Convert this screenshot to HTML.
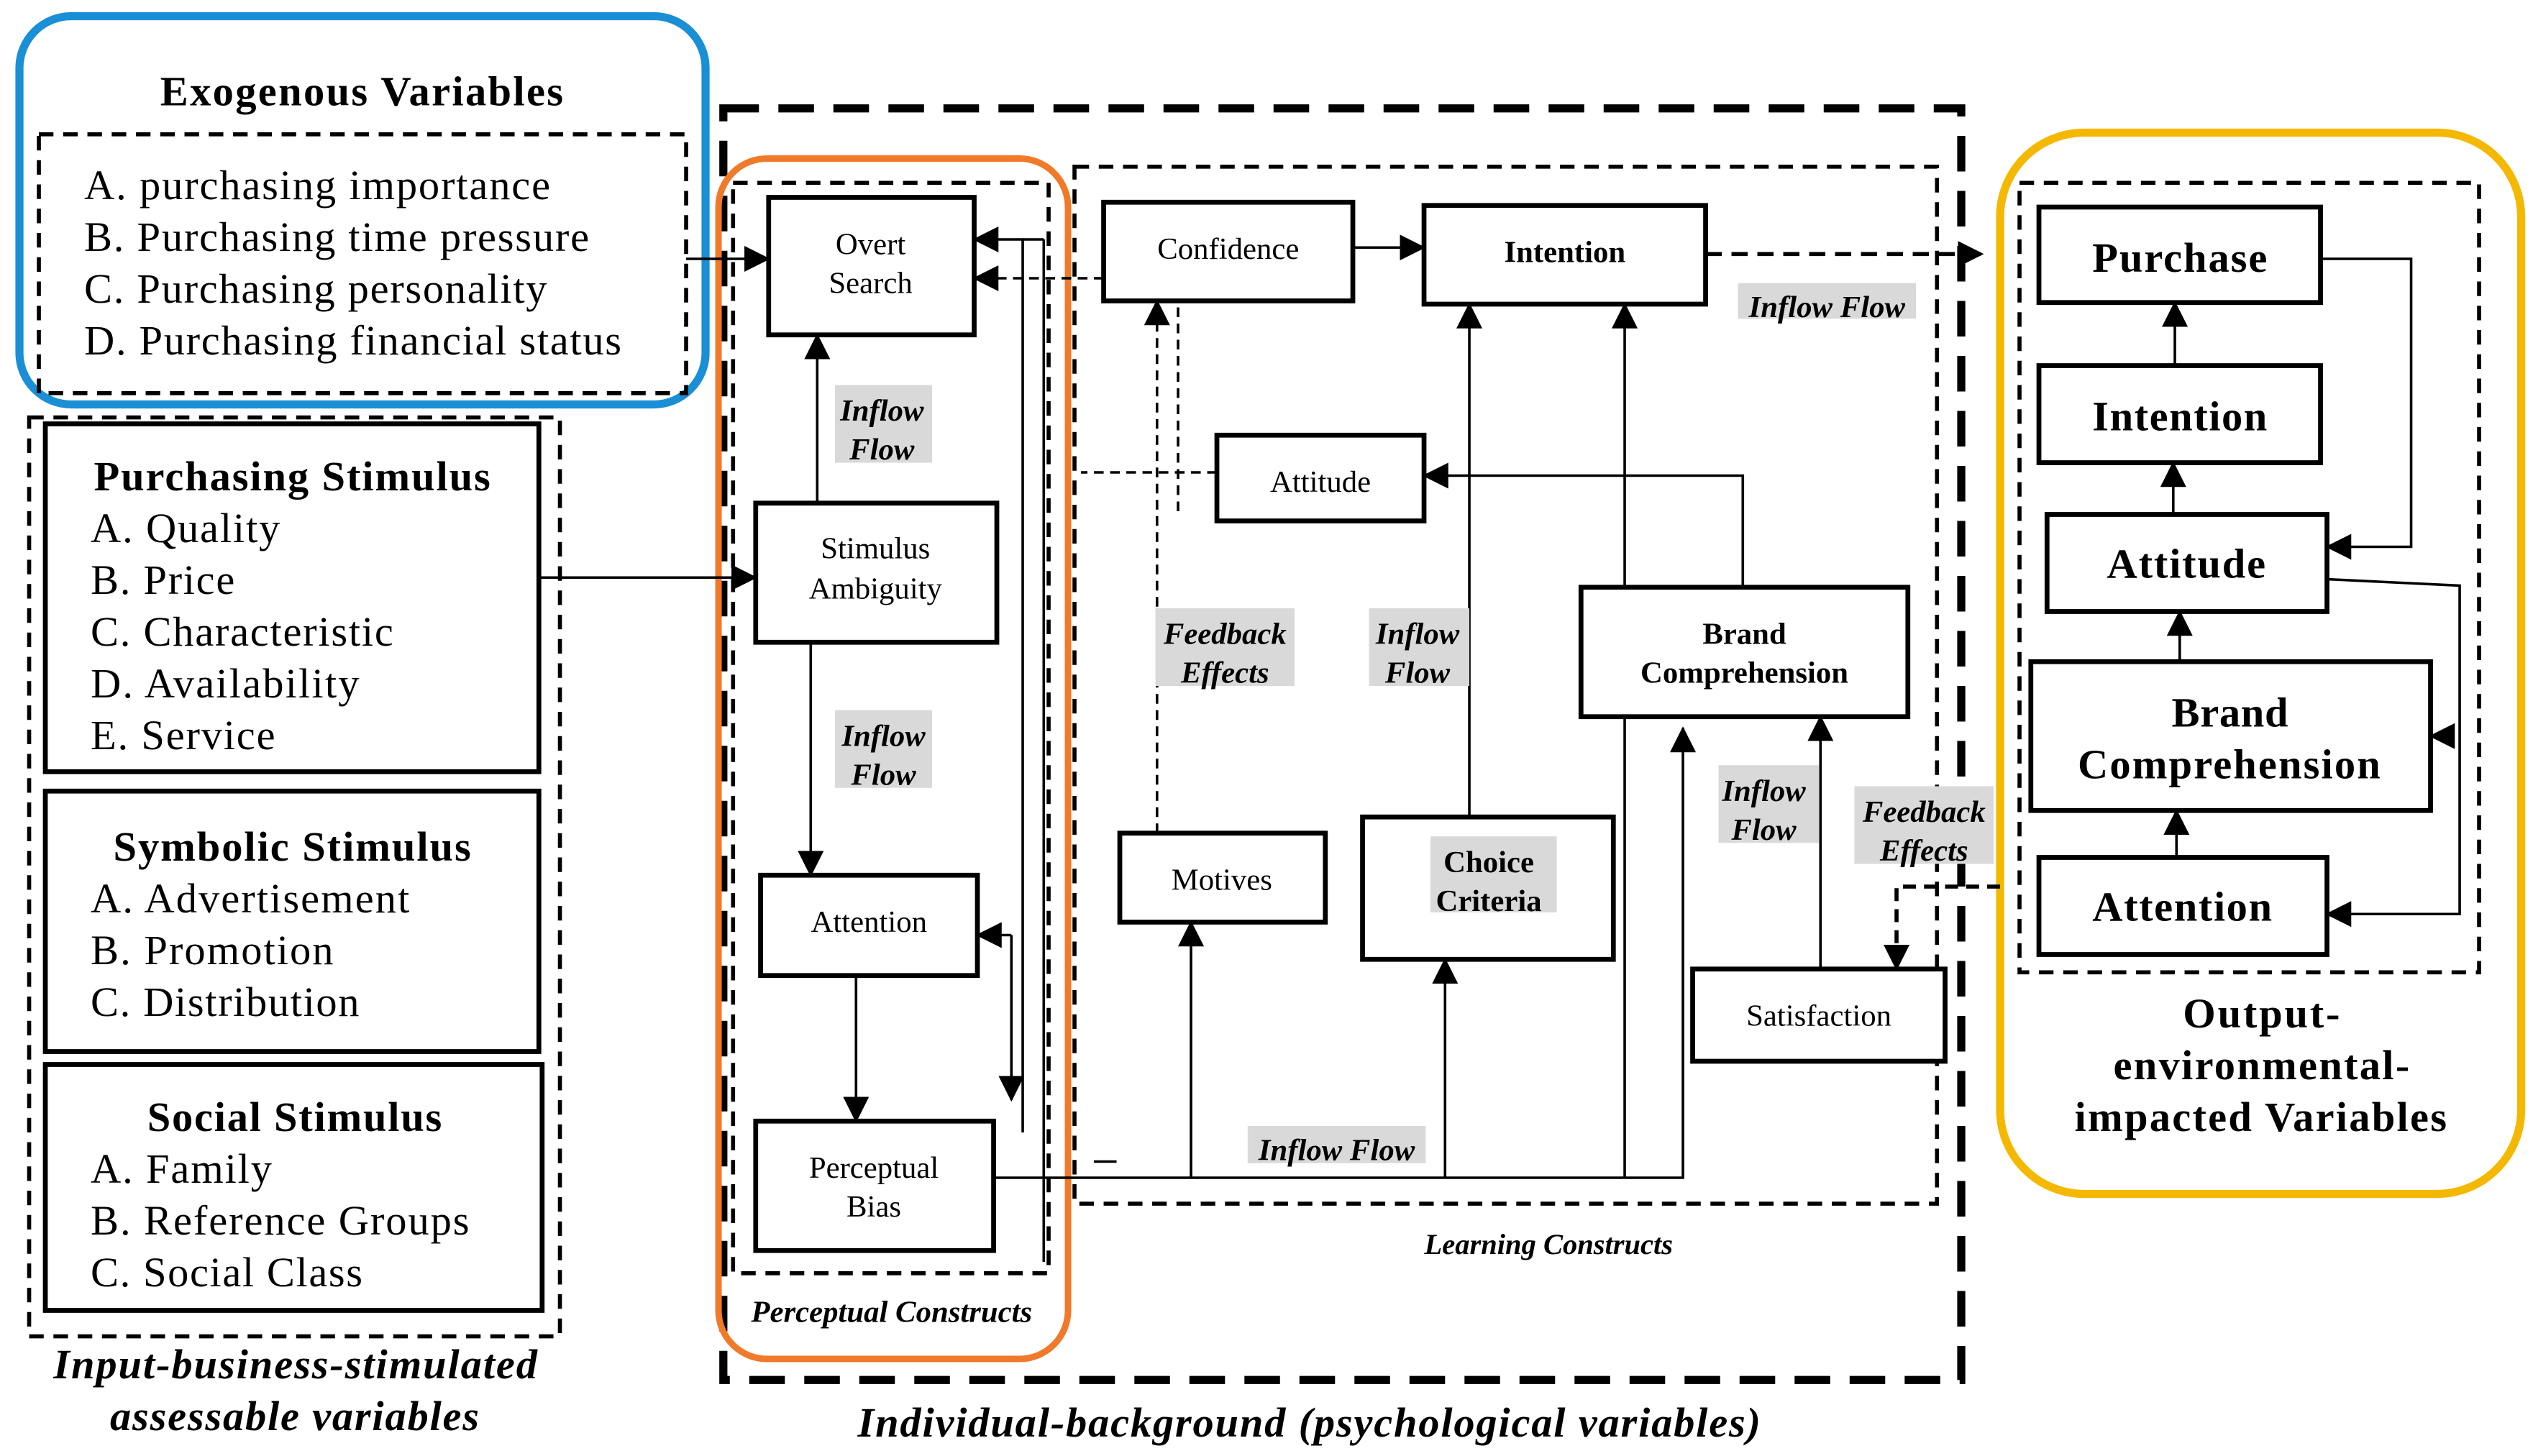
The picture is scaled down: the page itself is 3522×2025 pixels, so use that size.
<!DOCTYPE html>
<html><head><meta charset="utf-8"><style>
html,body{margin:0;padding:0;background:#fff;}
svg{display:block;}
text{font-family:"Liberation Serif",serif;fill:#000;}
.b{font-weight:bold;}
.bi{font-weight:bold;font-style:italic;}
</style></head><body>
<svg width="3522" height="2025" viewBox="0 0 1565.3 900" xmlns="http://www.w3.org/2000/svg">
<defs>
<marker id="a" markerWidth="10" markerHeight="10" refX="9" refY="5" orient="auto" markerUnits="userSpaceOnUse"><path d="M0,0 L10,5 L0,10 z" fill="#000"/></marker>
<marker id="A" markerWidth="16" markerHeight="16" refX="15" refY="8" orient="auto" markerUnits="userSpaceOnUse"><path d="M0,0 L16,8 L0,16 z" fill="#000"/></marker>
</defs>
<g fill="none" stroke="#000">
<rect x="12" y="10" width="424" height="240" rx="32" stroke="#1a8fd6" stroke-width="5"/>
<rect x="24" y="83" width="400" height="160" stroke-width="2.5" stroke-dasharray="9,6"/>
<rect x="18" y="258" width="328" height="568" stroke-width="2.5" stroke-dasharray="9,6"/>
<rect x="447" y="67" width="765" height="786" stroke-width="5" stroke-dasharray="22,12"/>
<rect x="444" y="98" width="216" height="742" rx="30" stroke="#f07a2a" stroke-width="4"/>
<rect x="453" y="113" width="195" height="674" stroke-width="2.5" stroke-dasharray="9,6"/>
<rect x="664" y="103" width="533" height="641" stroke-width="2.5" stroke-dasharray="9,6"/>
<rect x="1236" y="82" width="322" height="656" rx="52" stroke="#f5b800" stroke-width="5"/>
<rect x="1248" y="113" width="284" height="488" stroke-width="2.5" stroke-dasharray="9,6"/>
<g stroke-width="1.6">
<line x1="424" y1="160" x2="475" y2="160" marker-end="url(#A)"/>
<line x1="333" y1="357" x2="467" y2="357" marker-end="url(#A)"/>
<line x1="505" y1="311" x2="505" y2="207" marker-end="url(#A)"/>
<line x1="501" y1="397" x2="501" y2="541" marker-end="url(#A)"/>
<line x1="529" y1="603" x2="529" y2="693" marker-end="url(#A)"/>
<polyline points="632,700 632,148 602,148" marker-end="url(#A)"/>
<line x1="645" y1="148" x2="632" y2="148"/>
<line x1="645" y1="148" x2="645" y2="780"/>
<line x1="625" y1="578" x2="604" y2="578" marker-end="url(#A)"/>
<line x1="625" y1="578" x2="625" y2="680" marker-end="url(#A)"/>
<line x1="682" y1="172" x2="602" y2="172" stroke-dasharray="6,4" marker-end="url(#A)"/>
<line x1="836" y1="153" x2="880" y2="153" marker-end="url(#A)"/>
<line x1="1054" y1="157" x2="1225" y2="157" stroke-width="2.5" stroke-dasharray="10,6" marker-end="url(#A)"/>
<line x1="752" y1="292" x2="668" y2="292" stroke-dasharray="6,4"/>
<line x1="715" y1="515" x2="715" y2="186" stroke-dasharray="6,4" marker-end="url(#A)"/>
<line x1="728" y1="190" x2="728" y2="320" stroke-dasharray="6,4"/>
<polyline points="1077,363 1077,294 880,294" marker-end="url(#A)"/>
<line x1="908" y1="505" x2="908" y2="188" marker-end="url(#A)"/>
<line x1="1004" y1="728" x2="1004" y2="188" marker-end="url(#A)"/>
<polyline points="614,728 1040,728 1040,450" marker-end="url(#A)"/>
<line x1="736" y1="728" x2="736" y2="570" marker-end="url(#A)"/>
<line x1="893" y1="728" x2="893" y2="593" marker-end="url(#A)"/>
<line x1="1125" y1="599" x2="1125" y2="443" marker-end="url(#A)"/>
<polyline points="1236,548 1172,548 1172,599" stroke-width="2.5" stroke-dasharray="8,5" marker-end="url(#A)"/>
<line x1="676" y1="718" x2="690" y2="718"/>
<line x1="1345" y1="530" x2="1345" y2="501" marker-end="url(#A)"/>
<line x1="1347" y1="409" x2="1347" y2="378" marker-end="url(#A)"/>
<line x1="1343" y1="318" x2="1343" y2="286" marker-end="url(#A)"/>
<line x1="1344" y1="226" x2="1344" y2="187" marker-end="url(#A)"/>
<polyline points="1434,160 1490,160 1490,338 1438,338" marker-end="url(#A)"/>
<polyline points="1438,358 1520,362 1520,565 1438,565" marker-end="url(#A)"/>
<line x1="1516" y1="455" x2="1502" y2="455" marker-end="url(#A)"/>
</g>
<g fill="#fff" stroke-width="3">
<rect x="28" y="262" width="305" height="215"/>
<rect x="28" y="489" width="305" height="161"/>
<rect x="28" y="658" width="307" height="152"/>
<rect x="475" y="122" width="127" height="85"/>
<rect x="467" y="311" width="149" height="86"/>
<rect x="470" y="541" width="134" height="62"/>
<rect x="467" y="693" width="147" height="80"/>
<rect x="682" y="125" width="154" height="61"/>
<rect x="880" y="127" width="174" height="61"/>
<rect x="752" y="269" width="128" height="53"/>
<rect x="977" y="363" width="202" height="80"/>
<rect x="692" y="515" width="127" height="55"/>
<rect x="842" y="505" width="155" height="88"/>
<rect x="1046" y="599" width="156" height="57"/>
<rect x="1260" y="128" width="174" height="59"/>
<rect x="1260" y="226" width="174" height="60"/>
<rect x="1265" y="318" width="173" height="60"/>
<rect x="1255" y="409" width="247" height="92"/>
<rect x="1260" y="530" width="178" height="60"/>
</g>
<g fill="#d9d9d9" stroke="none">
<rect x="516" y="238" width="60" height="48"/>
<rect x="516" y="439" width="60" height="48"/>
<rect x="1074" y="175" width="110" height="22"/>
<rect x="714" y="376" width="86" height="48"/>
<rect x="846" y="376" width="62" height="48"/>
<rect x="1062" y="473" width="62" height="48"/>
<rect x="1146" y="486" width="86" height="48"/>
<rect x="771" y="696" width="110" height="23"/>
<rect x="884" y="517" width="78" height="47"/>
</g>
</g>
<g font-size="26" lengthAdjust="spacingAndGlyphs">
<text x="99" y="65" class="b" textLength="249">Exogenous Variables</text>
<text x="52" y="123" textLength="288">A. purchasing importance</text>
<text x="52" y="155" textLength="312">B. Purchasing time pressure</text>
<text x="52" y="187" textLength="286">C. Purchasing personality</text>
<text x="52" y="219" textLength="332">D. Purchasing financial status</text>
<text x="58" y="303" class="b" textLength="245">Purchasing Stimulus</text>
<text x="56" y="335" textLength="117">A. Quality</text>
<text x="56" y="367" textLength="89">B. Price</text>
<text x="56" y="399" textLength="187">C. Characteristic</text>
<text x="56" y="431" textLength="166">D. Availability</text>
<text x="56" y="463" textLength="114">E. Service</text>
<text x="70" y="532" class="b" textLength="221">Symbolic Stimulus</text>
<text x="56" y="564" textLength="197">A. Advertisement</text>
<text x="56" y="596" textLength="150">B. Promotion</text>
<text x="56" y="628" textLength="166">C. Distribution</text>
<text x="91" y="699" class="b" textLength="182">Social Stimulus</text>
<text x="56" y="731" textLength="112">A. Family</text>
<text x="56" y="763" textLength="234">B. Reference Groups</text>
<text x="56" y="795" textLength="168">C. Social Class</text>
<text x="33" y="852" class="bi" textLength="299">Input-business-stimulated</text>
<text x="68" y="884" class="bi" textLength="228">assessable variables</text>
<text x="530" y="888" class="bi" textLength="558">Individual-background (psychological variables)</text>
<text x="1293" y="168" class="b" textLength="108">Purchase</text>
<text x="1293" y="266" class="b" textLength="108">Intention</text>
<text x="1302" y="357" class="b" textLength="98">Attitude</text>
<text x="1342" y="449" class="b" textLength="72">Brand</text>
<text x="1284" y="481" class="b" textLength="187">Comprehension</text>
<text x="1293" y="569" class="b" textLength="111">Attention</text>
<text x="1349" y="635" class="b" textLength="97">Output-</text>
<text x="1306" y="667" class="b" textLength="183">environmental-</text>
<text x="1282" y="699" class="b" textLength="230">impacted Variables</text>
</g>
<g font-size="19" text-anchor="middle">
<text x="538" y="157">Overt</text>
<text x="538" y="181">Search</text>
<text x="541" y="345">Stimulus</text>
<text x="541" y="370">Ambiguity</text>
<text x="537" y="576">Attention</text>
<text x="540" y="728">Perceptual</text>
<text x="540" y="752">Bias</text>
<text x="759" y="160">Confidence</text>
<text x="967" y="162" class="b">Intention</text>
<text x="816" y="304">Attitude</text>
<text x="1078" y="398" class="b">Brand</text>
<text x="1078" y="422" class="b">Comprehension</text>
<text x="755" y="550">Motives</text>
<text x="920" y="539" class="b">Choice</text>
<text x="920" y="563" class="b">Criteria</text>
<text x="1124" y="634">Satisfaction</text>
</g>
<g font-size="19" text-anchor="middle">
<text x="545" y="260" class="bi">Inflow</text>
<text x="545" y="284" class="bi">Flow</text>
<text x="546" y="461" class="bi">Inflow</text>
<text x="546" y="485" class="bi">Flow</text>
<text x="1129" y="196" class="bi">Inflow Flow</text>
<text x="757" y="398" class="bi">Feedback</text>
<text x="757" y="422" class="bi">Effects</text>
<text x="876" y="398" class="bi">Inflow</text>
<text x="876" y="422" class="bi">Flow</text>
<text x="1090" y="495" class="bi">Inflow</text>
<text x="1090" y="519" class="bi">Flow</text>
<text x="1189" y="508" class="bi">Feedback</text>
<text x="1189" y="532" class="bi">Effects</text>
<text x="826" y="717" class="bi">Inflow Flow</text>
<text x="551" y="817" class="bi">Perceptual Constructs</text>
<text x="957" y="775" class="bi" font-size="18">Learning Constructs</text>
</g>
</svg>
</body></html>
